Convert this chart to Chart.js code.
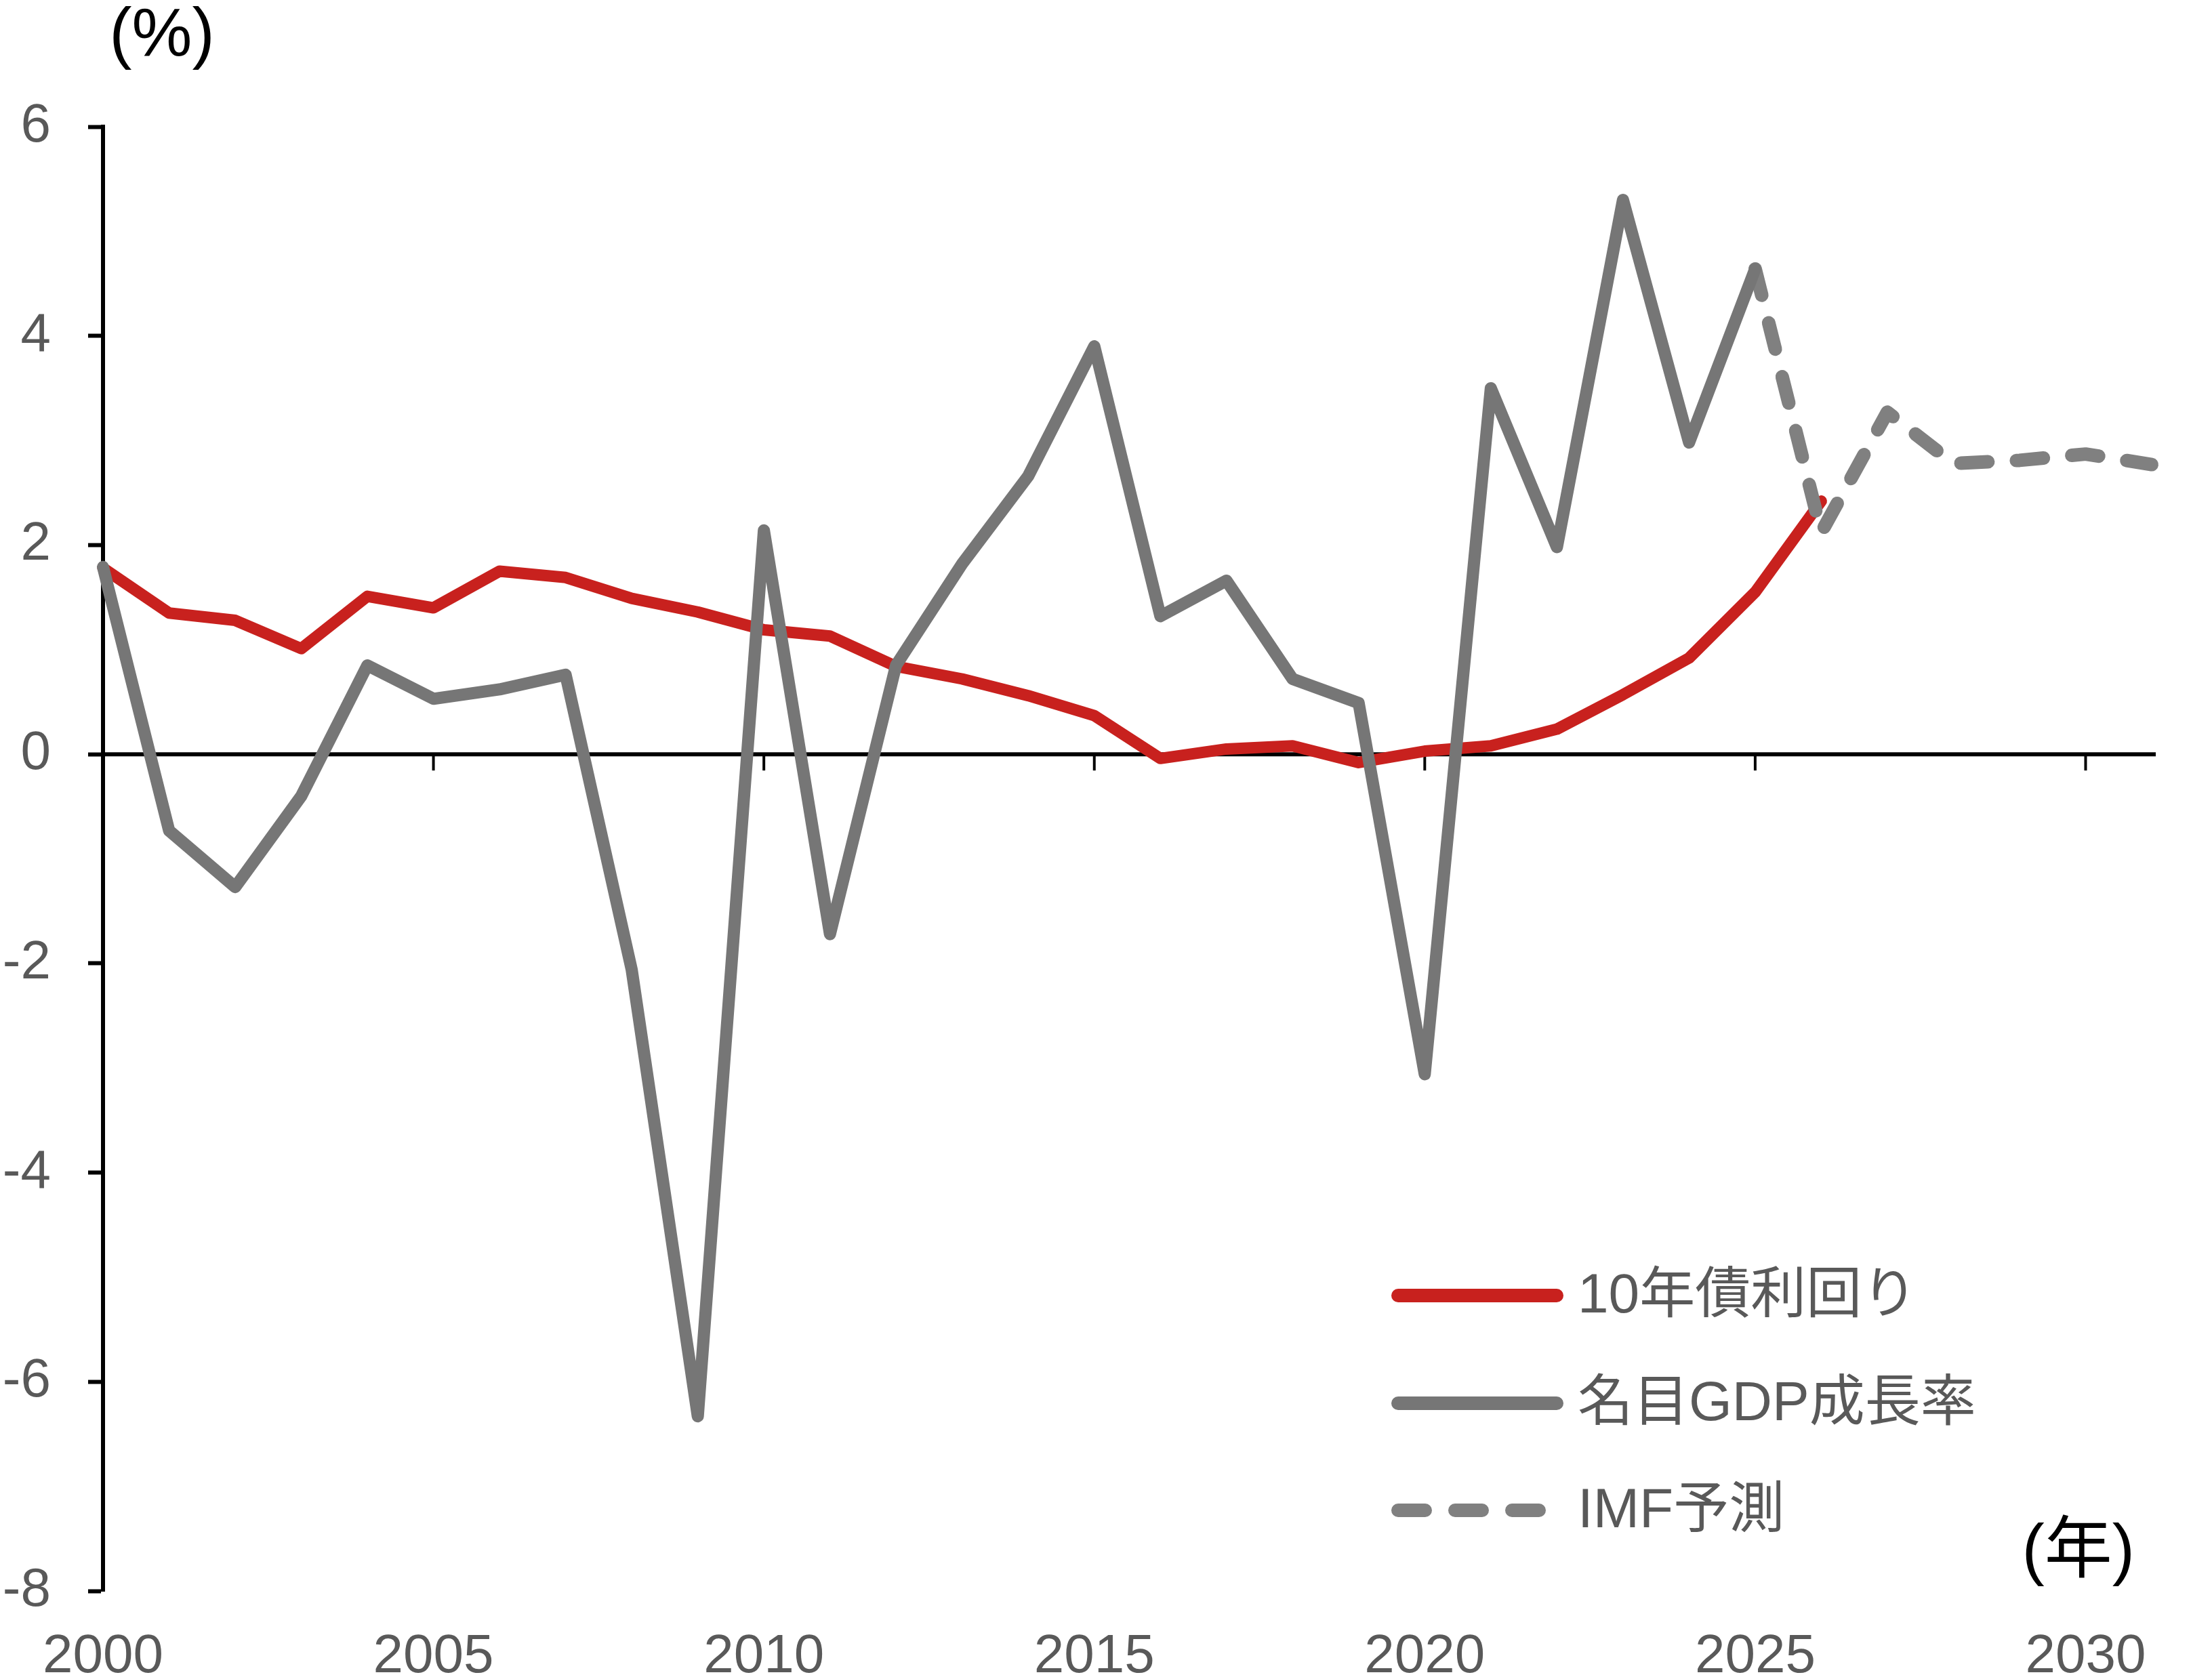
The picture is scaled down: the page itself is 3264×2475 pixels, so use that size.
<!DOCTYPE html>
<html lang="ja">
<head>
<meta charset="utf-8">
<script src="https://cdn.jsdelivr.net/npm/chart.js@4.4.0/dist/chart.umd.min.js"></script>
<style>
  html, body { margin: 0; padding: 0; background: #fff; }
</style>
</head>
<body>
<canvas id="chart" width="3264" height="2475"></canvas>
<script>
// series data
const seriesNames = ['10年債利回り', '名目GDP成長率', 'IMF予測'];

const bondYears = [2000, 2001, 2002, 2003, 2004, 2005, 2006, 2007, 2008, 2009,
                   2010, 2011, 2012, 2013, 2014, 2015, 2016, 2017, 2018, 2019,
                   2020, 2021, 2022, 2023, 2024, 2025, 2026];
const bondYield = [1.78, 1.35, 1.28, 1.01, 1.51, 1.40, 1.75, 1.69, 1.49, 1.36,
                   1.19, 1.13, 0.84, 0.72, 0.56, 0.37, -0.04, 0.05, 0.08, -0.08,
                   0.03, 0.08, 0.24, 0.57, 0.92, 1.55, 2.42];

const gdpYears = [2000, 2001, 2002, 2003, 2004, 2005, 2006, 2007, 2008, 2009,
                  2010, 2011, 2012, 2013, 2014, 2015, 2016, 2017, 2018, 2019,
                  2020, 2021, 2022, 2023, 2024, 2025];
const gdpGrowth = [1.79, -0.73, -1.27, -0.40, 0.85, 0.53, 0.62, 0.76, -2.06, -6.33,
                   2.14, -1.72, 0.85, 1.82, 2.66, 3.90, 1.32, 1.66, 0.72, 0.49,
                   -3.06, 3.50, 1.98, 5.30, 2.98, 4.64];

const imfYears = [2025, 2026, 2027, 2028, 2029, 2030, 2031];
const imfForecast = [4.64, 2.12, 3.27, 2.78, 2.81, 2.87, 2.77];

const xTickYears = [2000, 2005, 2010, 2015, 2020, 2025, 2030];
const yTickValues = [6, 4, 2, 0, -2, -4, -6, -8];

const RED = '#C8211E';
const GRAY = '#767676';
const GRAY_DASH = '#808080';
const TEXT = '#595959';
const FONT = "'Liberation Sans', 'Noto Sans CJK JP', sans-serif";

function toPoints(xs, ys) {
    return xs.map((x, i) => ({ x: x, y: ys[i] }));
}

// zero line, x ticks on it, unit labels and the legend
const decor = {
    id: 'decor',
    beforeDatasetsDraw(chart) {
        const { ctx, chartArea, scales } = chart;
        const y0 = scales.y.getPixelForValue(0);
        ctx.save();
        ctx.strokeStyle = '#000';
        ctx.lineWidth = 6;
        ctx.beginPath();
        ctx.moveTo(chartArea.left, y0);
        ctx.lineTo(chartArea.right + 6, y0);
        ctx.stroke();
        ctx.lineWidth = 4;
        xTickYears.forEach(v => {
            if (v === scales.x.min) return;
            const px = scales.x.getPixelForValue(v);
            ctx.beginPath();
            ctx.moveTo(px, y0);
            ctx.lineTo(px, y0 + 24);
            ctx.stroke();
        });
        ctx.restore();
    },
    afterDraw(chart) {
        const ctx = chart.ctx;
        ctx.save();
        ctx.font = '100px ' + FONT;
        ctx.textBaseline = 'middle';
        ctx.fillStyle = '#000';
        ctx.textAlign = 'center';
        ctx.fillText('(%)', 239, 54);
        ctx.textAlign = 'right';
        ctx.fillText('(年)', 3150, 2292);

        // legend
        ctx.font = '82px ' + FONT;
        const rowsY = [1912, 2071, 2229];
        chart.data.datasets.forEach((ds, i) => {
            const y = rowsY[i];
            ctx.strokeStyle = ds.borderColor;
            ctx.lineWidth = 20;
            ctx.lineCap = 'round';
            ctx.setLineDash(ds.borderDash ? [40, 44] : []);
            ctx.beginPath();
            ctx.moveTo(2063, y);
            ctx.lineTo(ds.borderDash ? 2273 : 2297, y);
            ctx.stroke();
            ctx.setLineDash([]);
            ctx.fillStyle = TEXT;
            ctx.textAlign = 'left';
            ctx.fillText(ds.label, 2328, y + 2);
        });
        ctx.restore();
    }
};

const ctx = document.getElementById('chart').getContext('2d');
const myChart = new Chart(ctx, {
    type: 'line',
    data: {
        datasets: [
            { label: seriesNames[0], data: toPoints(bondYears, bondYield),
              borderColor: RED, borderWidth: 17, order: 3, clip: false },
            { label: seriesNames[1], data: toPoints(gdpYears, gdpGrowth),
              borderColor: GRAY, borderWidth: 18, order: 1, clip: false },
            { label: seriesNames[2], data: toPoints(imfYears, imfForecast),
              borderColor: GRAY_DASH, borderWidth: 20, borderDash: [40, 42], order: 2, clip: false }
        ]
    },
    options: {
        responsive: false,
        animation: false,
        devicePixelRatio: 1,
        layout: { padding: { left: 0, top: 187, right: 89, bottom: 0 } },
        elements: {
            point: { radius: 0 },
            line: { tension: 0, borderCapStyle: 'round', borderJoinStyle: 'round', fill: false }
        },
        plugins: { legend: { display: false }, tooltip: { enabled: false } },
        scales: {
            x: {
                type: 'linear', min: 2000, max: 2031, position: 'bottom',
                afterBuildTicks: s => { s.ticks = xTickYears.map(v => ({ value: v })); },
                afterFit: s => { s.height = 127; s.paddingLeft = 0; s.paddingRight = 0; },
                grid: { display: false, drawTicks: false },
                border: { display: false },
                ticks: { padding: 50, color: TEXT, font: { size: 80, family: FONT },
                         maxRotation: 0, autoSkip: false, callback: v => String(v) }
            },
            y: {
                min: -8, max: 6,
                afterBuildTicks: s => { s.ticks = yTickValues.map(v => ({ value: v })); },
                afterFit: s => { s.width = 152; s.paddingTop = 0; s.paddingBottom = 0; },
                grid: { drawOnChartArea: false, drawTicks: true, tickLength: 22, tickWidth: 6, tickColor: '#000' },
                border: { display: true, color: '#000', width: 6 },
                ticks: { padding: 55, color: TEXT, font: { size: 80, family: FONT }, callback: v => String(v) }
            }
        }
    },
    plugins: [decor]
});
</script>
</body>
</html>
